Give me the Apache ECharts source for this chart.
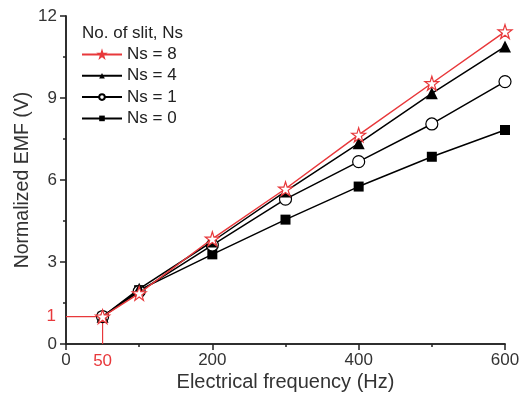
<!DOCTYPE html>
<html>
<head>
<meta charset="utf-8">
<script src="https://cdn.jsdelivr.net/npm/echarts@6/dist/echarts.min.js"></script>
<style>html,body{margin:0;padding:0;background:#fff}#c{width:530px;height:401px}</style>
</head>
<body>
<div id="c"></div>
<script>
const freq = [50, 100, 200, 300, 400, 500, 600];
const ns8 = [1.0, 1.85, 3.85, 5.68, 7.65, 9.54, 11.43];
const ns4 = [1.0, 2.02, 3.75, 5.58, 7.34, 9.17, 10.88];
const ns1 = [1.0, 1.92, 3.62, 5.30, 6.67, 8.05, 9.60];
const ns0 = [1.0, 1.97, 3.28, 4.55, 5.76, 6.85, 7.83];
const refPath = [[0, 1], [50, 1], [50, 0]];
const refLabels = ['1', '50'];
const seriesNames = ['Ns = 8', 'Ns = 4', 'Ns = 1', 'Ns = 0'];
const legendTitle = 'No. of slit, Ns';
const xTitle = 'Electrical frequency (Hz)';
const yTitle = 'Normalized EMF (V)';

const pair = arr => freq.map((f, i) => [f, arr[i]]);
const star = 'path://M50,0 L61.2,34.5 L97.6,34.5 L68.2,55.9 L79.4,90.5 L50,69.1 L20.6,90.5 L31.8,55.9 L2.4,34.5 L38.8,34.5 Z';
const font = "'Liberation Sans', Arial, sans-serif";
const axisCol = '#222';
const red = '#e8383b';

const chart = echarts.init(document.getElementById('c'));
chart.setOption({
  animation: false,
  backgroundColor: '#fff',
  title: {
    text: legendTitle, left: 77, top: 20,
    textStyle: {fontFamily: font, fontSize: 17, fontWeight: 'normal', color: '#222'}
  },
  legend: {
    data: seriesNames, orient: 'vertical', left: 76, top: 41,
    itemWidth: 40, itemHeight: 7, itemGap: 4.3,
    textStyle: {fontFamily: font, fontSize: 17, color: '#222'}
  },
  grid: {left: 66, right: 25, top: 16, bottom: 57},
  xAxis: [
    {
      type: 'value', min: 0, max: 600, interval: 200, position: 'bottom',
      name: xTitle, nameLocation: 'middle', nameGap: 28, nameMoveOverlap: false,
      nameTextStyle: {fontFamily: font, fontSize: 20, color: '#333'},
      axisLine: {lineStyle: {color: axisCol, width: 1.5}},
      axisTick: {inside: false, length: 6, lineStyle: {color: axisCol, width: 1.5}},
      minorTick: {show: true, splitNumber: 2, length: 3, lineStyle: {color: axisCol, width: 1.5}},
      axisLabel: {fontFamily: font, fontSize: 17, color: '#333', margin: 8},
      splitLine: {show: false}
    },
    {
      type: 'value', min: 0, max: 600, interval: 200, position: 'top',
      axisLine: {lineStyle: {color: axisCol, width: 1.5}},
      axisTick: {inside: true, length: 6, lineStyle: {color: axisCol, width: 1.5}},
      minorTick: {show: true, splitNumber: 2, length: 3, lineStyle: {color: axisCol, width: 1.5}},
      axisLabel: {show: false}, splitLine: {show: false}
    }
  ],
  yAxis: [
    {
      type: 'value', min: 0, max: 12, interval: 3, position: 'left',
      name: yTitle, nameLocation: 'middle', nameGap: 33, nameMoveOverlap: false,
      nameTextStyle: {fontFamily: font, fontSize: 19.5, color: '#333'},
      axisLine: {show: true, lineStyle: {color: axisCol, width: 1.5}},
      axisTick: {show: true, inside: false, length: 6, lineStyle: {color: axisCol, width: 1.5}},
      minorTick: {show: true, splitNumber: 2, length: 3, lineStyle: {color: axisCol, width: 1.5}},
      axisLabel: {fontFamily: font, fontSize: 17, color: '#333', margin: 9},
      splitLine: {show: false}
    },
    {
      type: 'value', min: 0, max: 12, interval: 3, position: 'right',
      axisLine: {show: true, lineStyle: {color: axisCol, width: 1.5}},
      axisTick: {show: true, inside: true, length: 6, lineStyle: {color: axisCol, width: 1.5}},
      minorTick: {show: true, splitNumber: 2, length: 3, lineStyle: {color: axisCol, width: 1.5}},
      axisLabel: {show: false}, splitLine: {show: false}
    }
  ],
  series: [
    {
      type: 'line', data: refPath, symbol: 'none', silent: true,
      lineStyle: {color: red, width: 1.2}, z: 1,
      markPoint: {
        symbol: 'circle', symbolSize: 0, silent: true,
        label: {fontFamily: font, fontSize: 17, color: red},
        data: [
          {coord: refPath[0], label: {formatter: refLabels[0], position: 'left', distance: 10}},
          {coord: refPath[2], label: {formatter: refLabels[1], position: 'bottom', distance: 9}}
        ]
      }
    },
    {
      name: 'Ns = 0', type: 'line', data: pair(ns0), symbol: 'rect', symbolSize: 10,
      itemStyle: {color: '#000'}, lineStyle: {color: '#000', width: 1.5}, z: 2
    },
    {
      name: 'Ns = 1', type: 'line', data: pair(ns1), symbol: 'circle', symbolSize: 12,
      itemStyle: {color: '#fff', borderColor: '#000', borderWidth: 1.2},
      lineStyle: {color: '#000', width: 1.5}, z: 3
    },
    {
      name: 'Ns = 4', type: 'line', data: pair(ns4), symbol: 'triangle', symbolSize: 12,
      itemStyle: {color: '#000'}, lineStyle: {color: '#000', width: 1.5}, z: 4
    },
    {
      name: 'Ns = 8', type: 'line', data: pair(ns8), symbol: star, symbolSize: 14,
      itemStyle: {color: '#fff', borderColor: red, borderWidth: 1.2},
      lineStyle: {color: red, width: 1.5}, z: 5
    }
  ]
});
</script>
</body>
</html>
